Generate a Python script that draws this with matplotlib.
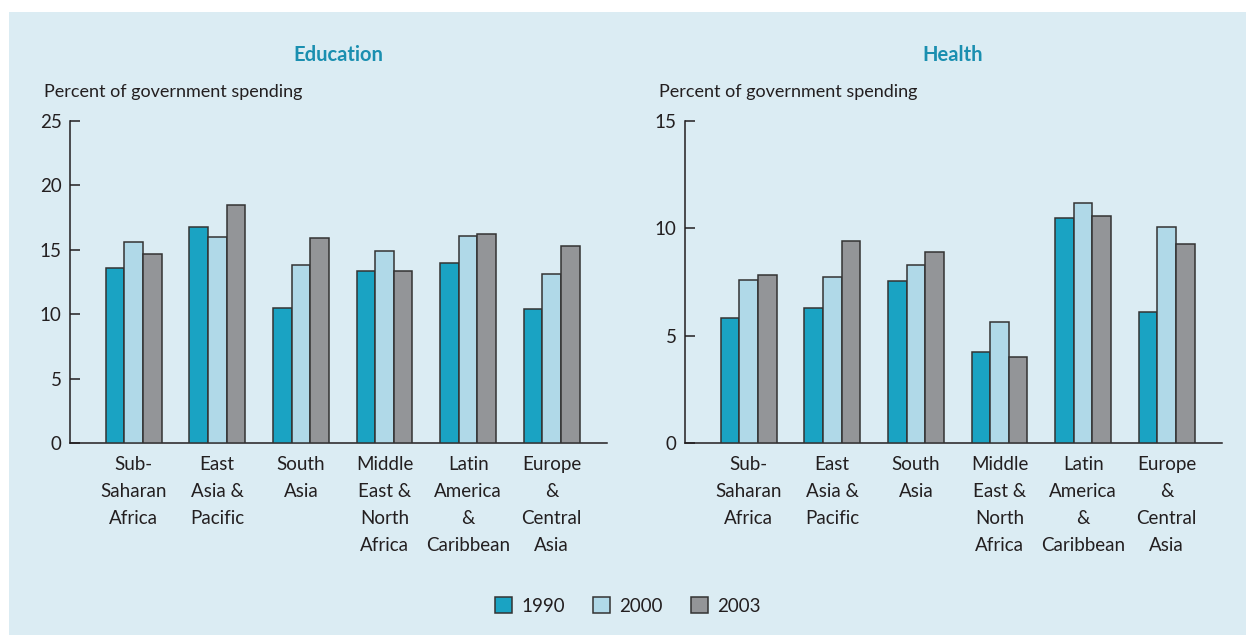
import numpy as np
import matplotlib.pyplot as plt
from matplotlib.patches import Rectangle, Patch

plt.rcParams['font.family'] = ['Lato', 'DejaVu Sans']

regions = ['Sub-\nSaharan\nAfrica', 'East\nAsia &\nPacific', 'South\nAsia',
           'Middle\nEast &\nNorth\nAfrica', 'Latin\nAmerica\n&\nCaribbean',
           'Europe\n&\nCentral\nAsia']
years = ['1990', '2000', '2003']

# percent of government spending
edu_1990 = [13.6, 16.8, 10.45, 13.38, 13.95, 10.43]
edu_2000 = [15.6, 16.0, 13.84, 14.93, 16.05, 13.1]
edu_2003 = [14.67, 18.5, 15.94, 13.38, 16.23, 15.3]

hea_1990 = [5.84, 6.29, 7.55, 4.22, 10.48, 6.1]
hea_2000 = [7.59, 7.73, 8.28, 5.65, 11.19, 10.07]
hea_2003 = [7.84, 9.42, 8.9, 4.02, 10.59, 9.28]

colors = ['#1aa3c3', '#b0d9e8', '#939598']
bg = '#dbecf3'
title_col = '#1a8fb0'
txt = '#231f20'

W, H = 1246, 635
fig = plt.figure(figsize=(W / 100, H / 100), dpi=100, facecolor='white')
fig.patches.append(Rectangle((9 / W, 0), 1 - 9 / W, 1 - 12 / H,
                             transform=fig.transFigure, facecolor=bg,
                             edgecolor='none', zorder=-10))


def draw_panel(left_px, series, ymax, yticks, title):
    ax = fig.add_axes([left_px / W, 1 - 443 / H, 537 / W, 322 / H])
    ax.set_facecolor('none')
    x = np.arange(len(regions))
    w = 0.223
    for i, vals in enumerate(series):
        ax.bar(x + (i - 1) * w, vals, w, color=colors[i],
               edgecolor='#333333', linewidth=1.1, zorder=3)
    ax.set_xlim(-0.76, len(regions) - 1 + 0.66)
    ax.set_ylim(0, ymax)
    ax.set_yticks(yticks)
    ax.set_xticks(x)
    ax.tick_params(axis='x', length=0, pad=9.5, labelsize=13.5, colors=txt)
    ax.tick_params(axis='y', direction='in', length=7, width=1.1, pad=6,
                   labelsize=13.5, colors=txt)
    ax.set_xticklabels(regions, linespacing=1.72)
    for s in ['top', 'right']:
        ax.spines[s].set_visible(False)
    for s in ['left', 'bottom']:
        ax.spines[s].set_linewidth(1.1)
        ax.spines[s].set_color('#231f20')
    fig.text((left_px + 268) / W, 1 - 55 / H, title, ha='center', va='center',
             fontsize=14.5, fontweight='bold', color=title_col)
    fig.text((left_px - 26) / W, 1 - 92 / H, 'Percent of government spending',
             ha='left', va='center', fontsize=13, color=txt)
    return ax


draw_panel(70, [edu_1990, edu_2000, edu_2003], 25, [0, 5, 10, 15, 20, 25], 'Education')
draw_panel(685, [hea_1990, hea_2000, hea_2003], 15, [0, 5, 10, 15], 'Health')

handles = [Patch(facecolor=c, edgecolor='#333333', linewidth=1.1) for c in colors]
fig.legend(handles, years, loc='center', bbox_to_anchor=(628 / W, 1 - 606 / H),
           ncol=3, frameon=False, fontsize=13.5, handlelength=0.9,
           handleheight=0.9, handletextpad=0.5, columnspacing=1.5,
           labelcolor=txt)

fig.savefig('out.png', dpi=100, facecolor='white')
